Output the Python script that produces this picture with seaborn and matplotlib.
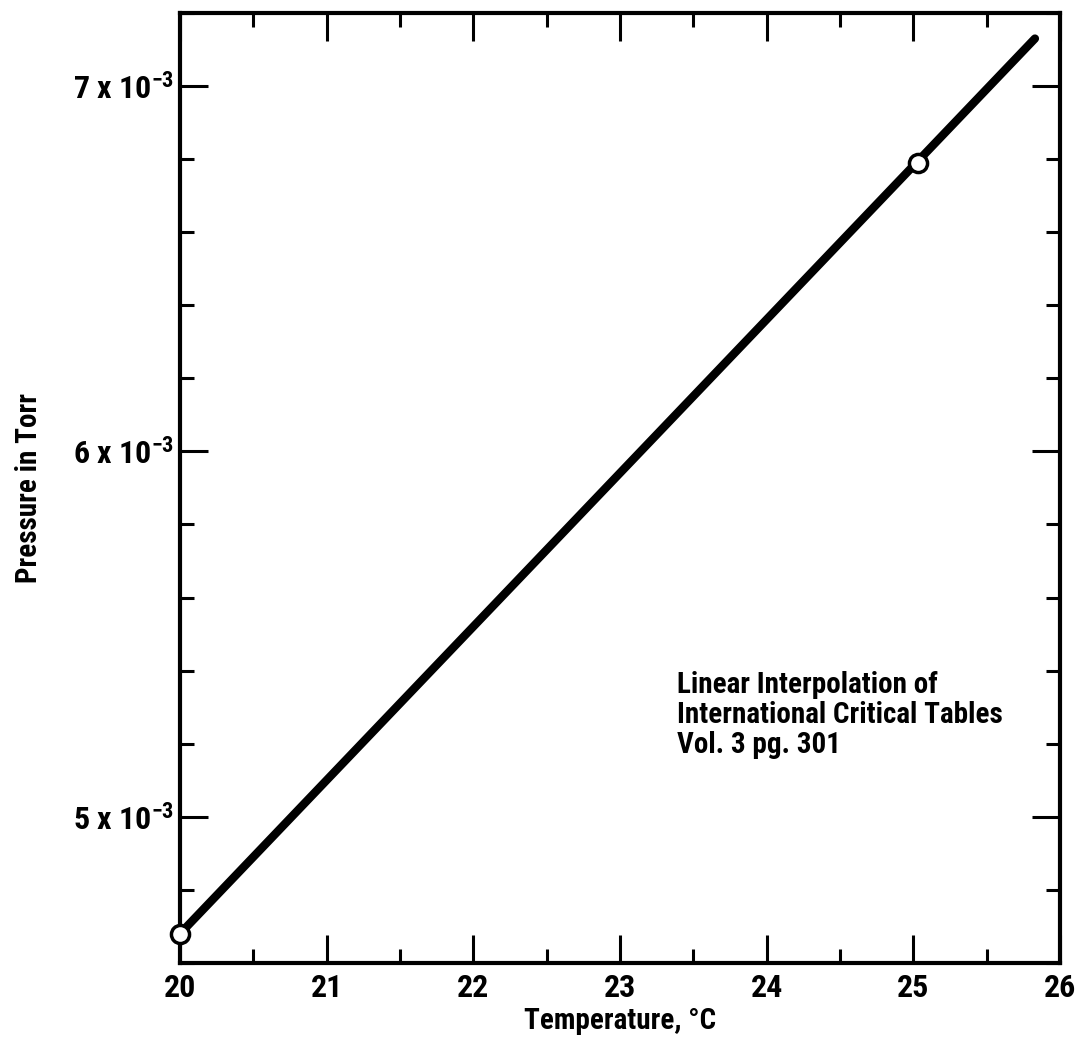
import matplotlib
matplotlib.use("Agg")
import matplotlib.pyplot as plt
import seaborn as sns
from matplotlib.ticker import FixedLocator, FixedFormatter, MultipleLocator

# linia interpolacji (temperatura w C, cisnienie w Torr)
temp_line = [20.0, 25.83]
press_line = [4.68e-3, 7.13e-3]

# punkty z tablic
temp_pts = [20.0, 25.03]
press_pts = [4.68e-3, 6.79e-3]

x_ticks = [20, 21, 22, 23, 24, 25, 26]
x_labels = ["20", "21", "22", "23", "24", "25", "26"]
y_ticks = [5e-3, 6e-3, 7e-3]
y_labels = ["5 x 10$^{-3}$", "6 x 10$^{-3}$", "7 x 10$^{-3}$"]
note = "Linear Interpolation of\nInternational Critical Tables\nVol. 3 pg. 301"

sns.set_style("ticks")
plt.rcParams['font.family'] = ['Roboto Condensed', 'Roboto', 'DejaVu Sans']
plt.rcParams['font.weight'] = 'bold'
plt.rcParams['axes.labelweight'] = 'bold'
plt.rcParams['text.color'] = 'black'
plt.rcParams['axes.labelcolor'] = 'black'
plt.rcParams['xtick.color'] = 'black'
plt.rcParams['ytick.color'] = 'black'
plt.rcParams['mathtext.fontset'] = 'custom'
plt.rcParams['mathtext.rm'] = 'Roboto Condensed:bold'
plt.rcParams['mathtext.default'] = 'rm'

fig = plt.figure(figsize=(10.76, 10.47), dpi=100)
ax = fig.add_axes([0.1673, 0.0803, 0.8177, 0.9073])

sns.lineplot(x=temp_line, y=press_line, color='black', linewidth=6, ax=ax,
             solid_capstyle='round')
sns.scatterplot(x=temp_pts, y=press_pts, s=170, facecolor='white',
                edgecolor='black', linewidth=2.5, zorder=3, ax=ax,
                clip_on=False)

ax.set_xlim(20, 26)
ax.set_ylim(4.6e-3, 7.2e-3)
ax.xaxis.set_major_locator(FixedLocator(x_ticks))
ax.xaxis.set_major_formatter(FixedFormatter(x_labels))
ax.xaxis.set_minor_locator(MultipleLocator(0.5))
ax.yaxis.set_major_locator(FixedLocator(y_ticks))
ax.yaxis.set_major_formatter(FixedFormatter(y_labels))
ax.yaxis.set_minor_locator(MultipleLocator(0.2e-3))

ax.tick_params(which='major', direction='in', length=20, width=2.2,
               top=True, right=True, labelsize=23)
ax.tick_params(which='minor', direction='in', length=10, width=2.2,
               top=True, right=True)
ax.tick_params(axis='x', pad=7)
ax.tick_params(axis='y', pad=4)

for sp in ax.spines.values():
    sp.set_linewidth(3)
    sp.set_color('black')

ax.set_xlabel("Temperature, °C", fontsize=21, labelpad=3)
ax.set_ylabel("Pressure in Torr", fontsize=21, labelpad=22)

ax.text(0.565, 0.221, note, transform=ax.transAxes, fontsize=21,
        va='baseline', ha='left', linespacing=1.1)

fig.savefig("out.png", dpi=100)
